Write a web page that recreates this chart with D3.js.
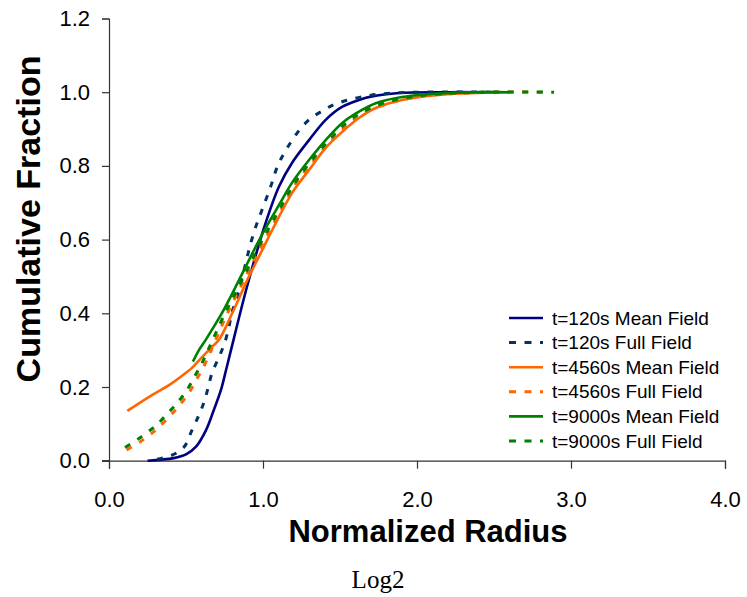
<!DOCTYPE html>
<meta charset="utf-8">
<script src="https://d3js.org/d3.v7.min.js"></script>
<style>
  body { margin: 0; background: #fff; }
  text { font-family: "Liberation Sans", Arial, sans-serif; }
</style>
<div id="my_dataviz"></div>
<script>

// values: [normalized radius, cumulative fraction]
var mean120 = [[0.25,0.0],[0.42,0.007],[0.50,0.017],[0.565,0.038],[0.63,0.083],[0.68,0.137],[0.727,0.192],
  [0.76,0.246],[0.792,0.30],[0.896,0.472],[1.013,0.64],[1.104,0.744],[1.188,0.808],[1.299,0.87],
  [1.407,0.925],[1.513,0.96],[1.623,0.979],[1.70,0.988],[1.883,0.998],[2.21,1.0],[2.4,1.0]];
var full120 = [[0.312,0.004],[0.409,0.015],[0.487,0.037],[0.539,0.083],[0.584,0.124],[0.617,0.159],
  [0.643,0.197],[0.669,0.238],[0.714,0.281],[0.753,0.322],[0.779,0.364],[0.80,0.404],[0.829,0.44],
  [0.855,0.481],[0.877,0.517],[0.898,0.554],[0.92,0.59],[0.953,0.635],[0.985,0.671],[1.05,0.744],
  [1.093,0.798],[1.136,0.834],[1.19,0.87],[1.245,0.902],[1.31,0.929],[1.385,0.949],[1.472,0.968],
  [1.70,0.992],[2.01,1.0],[2.5,1.0]];
var mean4560 = [[0.119,0.135],[0.279,0.178],[0.39,0.205],[0.498,0.238],[0.539,0.252],[0.604,0.281],
  [0.669,0.309],[0.714,0.328],[0.80,0.40],[0.898,0.49],[1.006,0.581],[1.06,0.626],[1.188,0.726],
  [1.299,0.789],[1.407,0.849],[1.513,0.892],[1.623,0.93],[1.732,0.957],[1.903,0.979],[2.123,0.992],
  [2.338,0.997],[2.6,1.0]];
var full4560 = [[0.114,0.029],[0.201,0.051],[0.279,0.075],[0.318,0.089],[0.39,0.119],[0.455,0.149],
  [0.519,0.184],[0.571,0.222],[0.617,0.257],[0.656,0.292],[0.769,0.40],[0.877,0.49],[0.987,0.58],
  [1.136,0.694],[1.214,0.753],[1.334,0.816],[1.448,0.87],[1.565,0.916],[1.669,0.947],[1.818,0.97],
  [2.0,0.987],[2.175,0.995],[2.468,1.0],[2.825,1.0]];
var mean9000 = [[0.545,0.269],[0.584,0.30],[0.628,0.328],[0.734,0.401],[0.844,0.49],[0.953,0.581],
  [1.018,0.632],[1.104,0.694],[1.188,0.754],[1.299,0.816],[1.407,0.87],[1.513,0.916],[1.623,0.947],
  [1.732,0.97],[1.903,0.987],[2.208,0.998],[2.6,1.0]];
var full9000 = [[0.104,0.036],[0.19,0.059],[0.271,0.084],[0.31,0.097],[0.377,0.127],[0.442,0.156],
  [0.506,0.192],[0.558,0.23],[0.604,0.265],[0.643,0.30],[0.753,0.40],[0.864,0.49],[0.971,0.58],
  [1.123,0.694],[1.205,0.753],[1.318,0.816],[1.429,0.87],[1.539,0.916],[1.649,0.947],[1.779,0.97],
  [1.961,0.987],[2.143,0.995],[2.403,1.0],[2.89,1.0]];

var seriesNames = ["t=120s Mean Field","t=120s Full Field","t=4560s Mean Field",
                   "t=4560s Full Field","t=9000s Mean Field","t=9000s Full Field"];
var xTicks = [0, 1, 2, 3, 4];
var yTicks = [0, 0.2, 0.4, 0.6, 0.8, 1.0, 1.2];

var series = [
  {name: seriesNames[0], values: mean120,  color: "#000080", dash: null},
  {name: seriesNames[1], values: full120,  color: "#003366", dash: "6,8.5"},
  {name: seriesNames[2], values: mean4560, color: "#FF6600", dash: null},
  {name: seriesNames[3], values: full4560, color: "#FF6600", dash: "6,8.5"},
  {name: seriesNames[4], values: mean9000, color: "#008000", dash: null},
  {name: seriesNames[5], values: full9000, color: "#008000", dash: "6,8.5"}
];

var W = 747, H = 597;
var margin = {top: 18.5, left: 109},
    width = 616,
    height = 442.2;

var svg = d3.select("#my_dataviz")
  .append("svg")
    .attr("width", W)
    .attr("height", H);

var g = svg.append("g")
    .attr("transform", "translate(" + margin.left + "," + margin.top + ")");

var x = d3.scaleLinear().domain([0, 4]).range([0, width]);
var y = d3.scaleLinear().domain([0, 1.2]).range([height, 0]);

// X axis
var xAxis = g.append("g")
  .attr("transform", "translate(0," + height + ")")
  .call(d3.axisBottom(x).tickValues(xTicks).tickSize(8).tickPadding(22.5).tickFormat(d3.format(".1f")));

// Y axis
var yAxis = g.append("g")
  .call(d3.axisLeft(y).tickValues(yTicks).tickSize(7).tickPadding(12).tickFormat(d3.format(".1f")));

[xAxis, yAxis].forEach(function(a) {
  a.select(".domain").attr("stroke", "#333").attr("stroke-width", 1.2);
  a.selectAll(".tick line").attr("stroke", "#333").attr("stroke-width", 1.2);
  a.selectAll(".tick text")
    .style("font-family", "'Liberation Sans', Arial, sans-serif")
    .style("font-size", "22px")
    .attr("fill", "#000");
});
// x axis line also runs under the y tick at 0
g.append("line")
  .attr("x1", -7).attr("x2", 0)
  .attr("y1", height).attr("y2", height)
  .attr("stroke", "#333").attr("stroke-width", 1.2);

// lines
var line = d3.line()
  .x(function(d) { return x(d[0]); })
  .y(function(d) { return y(d[1]); })
  .curve(d3.curveCatmullRom.alpha(0.5));

g.selectAll(".series")
  .data(series)
  .enter()
  .append("path")
    .attr("class", "series")
    .attr("d", function(d) { return line(d.values); })
    .attr("fill", "none")
    .attr("stroke", function(d) { return d.color; })
    .attr("stroke-width", function(d) { return d.dash ? 3 : 2.6; })
    .attr("stroke-dasharray", function(d) { return d.dash; });

// legend
var legend = svg.append("g").attr("transform", "translate(509,318)");
var row = legend.selectAll(".row")
  .data(series)
  .enter()
  .append("g")
    .attr("transform", function(d, i) { return "translate(0," + (i * 24.6) + ")"; });
row.append("line")
  .attr("x1", 0).attr("x2", 34)
  .attr("stroke", function(d) { return d.color; })
  .attr("stroke-width", function(d) { return d.dash ? 3 : 2.6; })
  .attr("stroke-dasharray", function(d) { return d.dash ? "7,8.5" : null; });
row.append("text")
  .attr("x", 43)
  .attr("dy", "0.35em")
  .style("font-size", "19px")
  .text(function(d) { return d.name; });

// axis titles
svg.append("text")
  .attr("text-anchor", "middle")
  .attr("x", 428)
  .attr("y", 542)
  .style("font-size", "31px")
  .style("font-weight", "bold")
  .text("Normalized Radius");

svg.append("text")
  .attr("text-anchor", "middle")
  .attr("transform", "translate(40,219) rotate(-90)")
  .style("font-size", "34px")
  .style("font-weight", "bold")
  .text("Cumulative Fraction");

svg.append("text")
  .attr("text-anchor", "middle")
  .attr("x", 378)
  .attr("y", 588)
  .style("font-family", "'Liberation Serif', 'Times New Roman', serif")
  .style("font-size", "25px")
  .text("Log2");

</script>
